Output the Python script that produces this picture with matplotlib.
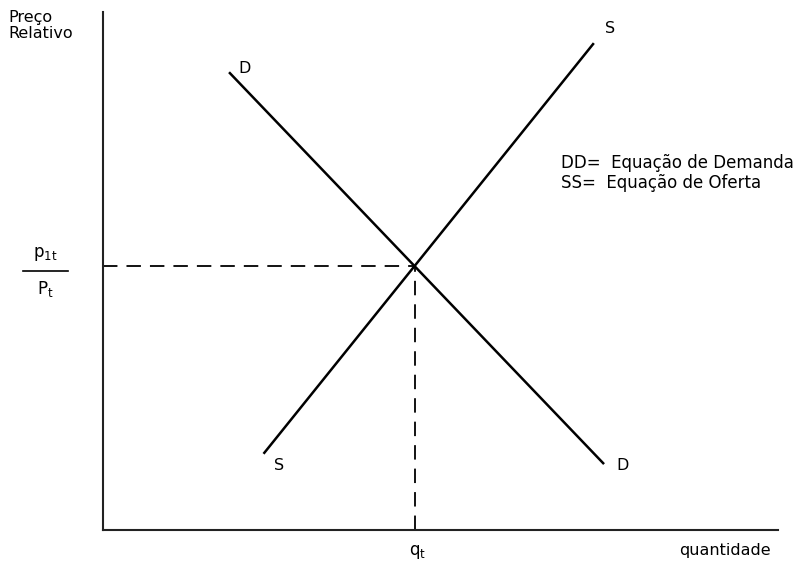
import matplotlib.pyplot as plt

# line end points (data units: 0-100 on each axis)
demand_x = [18.8, 74.1]
demand_y = [88.2, 12.9]
supply_x = [23.9, 72.6]
supply_y = [14.9, 93.8]
eq_q = 46.2
eq_p = 51.0

fig = plt.figure(figsize=(8.03, 5.65), dpi=100)
ax = fig.add_axes([103 / 803, 35 / 565, 675 / 803, 518 / 565])
ax.set_xlim(0, 100)
ax.set_ylim(0, 100)

for side in ['top', 'right']:
    ax.spines[side].set_visible(False)
for side in ['left', 'bottom']:
    ax.spines[side].set_linewidth(1.5)
    ax.spines[side].set_color('#222222')
ax.set_xticks([])
ax.set_yticks([])

ax.plot(demand_x, demand_y, color='black', lw=1.8)
ax.plot(supply_x, supply_y, color='black', lw=1.8)

# dashed guides to the equilibrium
ax.plot([0, eq_q], [eq_p, eq_p], color='black', lw=1.3, ls=(0, (8, 5)))
ax.plot([eq_q, eq_q], [0, eq_p], color='black', lw=1.3, ls=(0, (8, 5)))

fs = 11.5
ax.text(21.0, 89.0, 'D', fontsize=fs, ha='center', va='center')
ax.text(75.1, 96.9, 'S', fontsize=fs, ha='center', va='center')
ax.text(26.1, 12.4, 'S', fontsize=fs, ha='center', va='center')
ax.text(76.9, 12.5, 'D', fontsize=fs, ha='center', va='center')

ax.text(67.9, 70.8, 'DD=  Equação de Demanda', fontsize=12, ha='left', va='center')
ax.text(67.9, 67.0, 'SS=  Equação de Oferta', fontsize=12, ha='left', va='center')

ax.text(eq_q + 0.4, -2.5, r'q$_{\mathrm{t}}$', fontsize=12, ha='center', va='top',
        clip_on=False)
ax.text(92.1, -3.9, 'quantidade', fontsize=fs, ha='center', va='center', clip_on=False)

# y-axis label and price ratio
fig.text(8 / 803, 1 - 10 / 565, 'Preço\nRelativo', fontsize=fs, ha='left', va='top',
         linespacing=1.1)
fig.text(45 / 803, 1 - 254 / 565, r'p$_{\mathrm{1t}}$', fontsize=12, ha='center', va='center')
fig.add_artist(plt.Line2D([23 / 803, 68 / 803], [1 - 271 / 565, 1 - 271 / 565],
                          color='black', lw=1.2))
fig.text(45 / 803, 1 - 289 / 565, r'P$_{\mathrm{t}}$', fontsize=12, ha='center', va='center')

fig.savefig('out.png', dpi=100, facecolor='white')
